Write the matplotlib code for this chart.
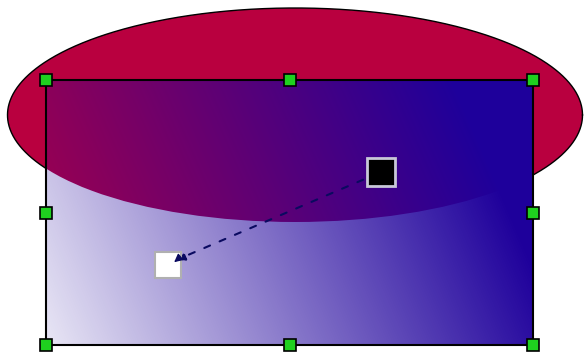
import numpy as np
import matplotlib
matplotlib.use("Agg")
import matplotlib.pyplot as plt
from matplotlib.patches import Ellipse, Rectangle

# Shapes (pixel coordinates, y grows downward)
ellipse_center = (295, 115)
ellipse_size = (575, 214)
ellipse_color = "#b9003f"

rect_x = [46, 533]
rect_y = [80, 345]
rect_color = (30, 0, 155)

# gradient handles: start (white) and end (black)
grad_start = (168, 265)
grad_end = (381, 172)
# transparency stops along the handle axis: (t, alpha)
alpha_t = [-0.62, 1.43]
alpha_v = [0.10, 1.0]

fig = plt.figure(figsize=(5.86, 3.56), dpi=100)
ax = fig.add_axes([0, 0, 1, 1])
ax.set_xlim(0, 586)
ax.set_ylim(356, 0)
ax.axis("off")

# back shape, outline only where the rectangle does not cover it
ax.add_patch(Ellipse(ellipse_center, *ellipse_size, facecolor=ellipse_color,
                     edgecolor="none", zorder=1))
th = np.linspace(0, 2 * np.pi, 1000)
ex = ellipse_center[0] + ellipse_size[0] / 2 * np.cos(th)
ey = ellipse_center[1] + ellipse_size[1] / 2 * np.sin(th)
inside = (ex > rect_x[0]) & (ex < rect_x[1]) & (ey > rect_y[0]) & (ey < rect_y[1])
ex[inside] = np.nan
ax.plot(ex, ey, color="black", lw=1.0, zorder=1.5)

# rectangle with transparency gradient
xs = np.arange(rect_x[0], rect_x[1]) + 0.5
ys = np.arange(rect_y[0], rect_y[1]) + 0.5
X, Y = np.meshgrid(xs, ys)
d = np.array(grad_end) - np.array(grad_start)
t = ((X - grad_start[0]) * d[0] + (Y - grad_start[1]) * d[1]) / (d @ d)
alpha = np.interp(t, alpha_t, alpha_v)
img = np.zeros(X.shape + (4,))
img[..., 0] = rect_color[0] / 255
img[..., 1] = rect_color[1] / 255
img[..., 2] = rect_color[2] / 255
img[..., 3] = alpha
ax.imshow(img, extent=[rect_x[0], rect_x[1], rect_y[1], rect_y[0]],
          interpolation="bilinear", zorder=2, aspect="auto")
ax.add_patch(Rectangle((rect_x[0], rect_y[0]), rect_x[1] - rect_x[0], rect_y[1] - rect_y[0],
                       fill=False, edgecolor="black", lw=1.5, zorder=3))

# dashed gradient vector with arrow to the start handle
ax.annotate("", xy=(grad_start[0] + 6, grad_start[1] - 4), xytext=grad_end,
            arrowprops=dict(arrowstyle="-|>", color="#0a0a60", lw=1.5,
                            linestyle=(0, (3, 5)), mutation_scale=12),
            zorder=4)

# gradient handles
ax.plot(*grad_end, marker="s", ms=20, mfc="black", mec="#c8c8d8", mew=2, zorder=5)
ax.plot(*grad_start, marker="s", ms=19, mfc="white", mec="#b0b0b0", mew=1.5, zorder=5)
ax.annotate("", xy=(grad_start[0] + 4, grad_start[1] - 1),
            xytext=(grad_start[0] + 10, grad_start[1] - 6),
            arrowprops=dict(arrowstyle="-|>", color="#0a0a60", lw=1.0, mutation_scale=12),
            zorder=6)

# selection handles
hx = [rect_x[0], (rect_x[0] + rect_x[1]) / 2, rect_x[1]]
hy = [rect_y[0], (rect_y[0] + rect_y[1]) / 2, rect_y[1]]
px, py = [], []
for yy in hy:
    for xx in hx:
        if yy == hy[1] and xx == hx[1]:
            continue
        px.append(xx)
        py.append(yy)
ax.plot(px, py, "s", ms=9, mfc="#1fd01f", mec="black", mew=1.2, ls="none", zorder=7)

fig.savefig("out.png", dpi=100)
